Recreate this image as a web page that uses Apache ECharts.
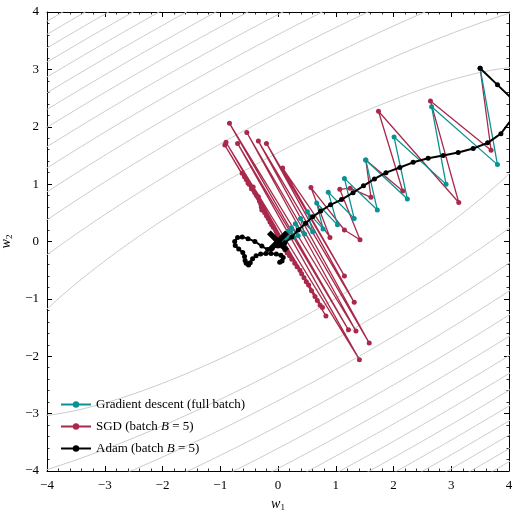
<!DOCTYPE html>
<html>
<head>
<meta charset="utf-8">
<script src="https://cdn.jsdelivr.net/npm/echarts@6/dist/echarts.min.js"></script>
<style>
html, body { margin: 0; padding: 0; background: #fff; }
#chart { width: 518px; height: 516px; }
</style>
</head>
<body>
<div id="chart"></div>
<script>
// quadratic loss  a*w1^2 + 2*b*w1*w2 + c*w2^2, minimum at origin
var lossCoef = [0.373, -0.526, 1.0];
var contourLevels = [2.4, 5.05, 7.7, 10.35, 13.0, 15.65, 18.3, 20.95, 23.6, 26.25, 28.9, 31.55, 34.2, 36.85, 39.5];
var minimum = [[0, 0]];

var gdPath = [
	[3.50, 3.02], [3.80, 1.34], [2.66, 2.35], [2.91, 1.00], [2.01, 1.82], [2.24, 0.74],
	[1.52, 1.42], [1.72, 0.55], [1.15, 1.10], [1.32, 0.40], [0.87, 0.86], [1.03, 0.29],
	[0.67, 0.67], [0.78, 0.22], [0.51, 0.52], [0.60, 0.17], [0.39, 0.40], [0.46, 0.13],
	[0.30, 0.31], [0.35, 0.10], [0.23, 0.24], [0.27, 0.08], [0.18, 0.18], [0.21, 0.06],
	[0.14, 0.14], [0.16, 0.05], [0.11, 0.11], [0.12, 0.04], [0.08, 0.08], [0.09, 0.03]
];

var sgdPath = [
	[3.50, 3.02], [3.69, 1.59], [2.64, 2.45], [3.13, 0.68], [1.74, 2.27], [2.16, 0.88],
	[1.52, 1.42], [1.61, 0.77], [1.25, 0.93], [1.07, 0.91], [1.42, 0.03], [1.15, 0.20],
	[0.57, 0.94], [0.90, 0.07],
	[0.08, 1.28], [1.15, -0.60], [-0.20, 1.71], [1.32, -1.06], [-0.34, 1.75], [1.58, -1.77],
	[-0.54, 1.90], [1.35, -1.56], [-0.84, 2.06], [1.22, -1.54], [-0.70, 1.71], [1.41, -2.06],
	[-0.90, 1.73], [0.77, -1.15], [-0.92, 1.68], [0.83, -1.30],
	[-0.62, 1.19], [0.73, -1.11], [-0.58, 1.13], [0.68, -1.03], [-0.55, 1.08], [0.64, -0.96],
	[-0.52, 1.02], [0.58, -0.86], [-0.50, 1.00], [0.53, -0.76], [-0.46, 0.92], [0.49, -0.70],
	[-0.43, 0.95], [0.45, -0.63], [-0.40, 0.85], [0.41, -0.56], [-0.37, 0.80], [0.38, -0.50],
	[-0.34, 0.78], [0.33, -0.44], [-0.32, 0.70], [0.29, -0.38], [-0.30, 0.66], [0.24, -0.31],
	[-0.29, 0.60], [0.20, -0.25], [-0.28, 0.55], [0.16, -0.20], [-0.23, 0.50], [0.12, -0.15],
	[-0.20, 0.45], [0.06, -0.08], [-0.17, 0.40], [0.04, -0.05], [-0.14, 0.34], [0.02, -0.02],
	[-0.11, 0.29], [-0.08, 0.25]
];

var adamPath = [
	[3.50, 3.02], [3.80, 2.73], [4.08, 2.46], [4.14, 2.26], [3.86, 1.88], [3.63, 1.72],
	[3.38, 1.62], [3.12, 1.55], [2.86, 1.50], [2.60, 1.45], [2.34, 1.38], [2.11, 1.29],
	[1.87, 1.20], [1.67, 1.09], [1.48, 0.97], [1.30, 0.85], [1.10, 0.73], [0.91, 0.64],
	[0.74, 0.53], [0.60, 0.43], [0.48, 0.32], [0.35, 0.20], [0.24, 0.08], [0.12, -0.02],
	[0.00, -0.08], [-0.10, -0.12], [-0.18, -0.14], [-0.28, -0.08], [-0.40, 0.00], [-0.52, 0.05],
	[-0.62, 0.08], [-0.70, 0.07], [-0.75, 0.00], [-0.74, -0.07], [-0.68, -0.13], [-0.61, -0.19],
	[-0.58, -0.26], [-0.57, -0.33], [-0.55, -0.38], [-0.51, -0.41], [-0.48, -0.37], [-0.44, -0.30],
	[-0.38, -0.25], [-0.30, -0.22], [-0.21, -0.21], [-0.12, -0.21], [-0.03, -0.22], [0.05, -0.24],
	[0.09, -0.28], [0.07, -0.34], [0.03, -0.36]
];

var tickValues = [-4, -3, -2, -1, 0, 1, 2, 3, 4];
var seriesNames = ['Gradient descent (full batch)', 'SGD (batch B = 5)', 'Adam (batch B = 5)'];
var seriesColors = ['#0a9292', '#a8294b', '#000000'];

var FONT = '"Liberation Serif", "DejaVu Serif", serif';

function ellipse(level) {
	var pts = [];
	var a = lossCoef[0], b = lossCoef[1], c = lossCoef[2];
	for (var i = 0; i <= 360; i++) {
		var t = i / 360 * 2 * Math.PI;
		var dx = Math.cos(t), dy = Math.sin(t);
		var q = a * dx * dx + 2 * b * dx * dy + c * dy * dy;
		var r = Math.sqrt(level / q);
		pts.push([r * dx, r * dy]);
	}
	return pts;
}

function axisCommon(pos, showLabel) {
	return {
		type: 'value',
		position: pos,
		min: tickValues[0],
		max: tickValues[tickValues.length - 1],
		interval: 1,
		axisLine: { show: true, onZero: false, lineStyle: { color: '#000', width: 1 } },
		axisTick: { show: true, inside: true, length: 5, lineStyle: { color: '#000', width: 1 } },
		minorTick: { show: true, splitNumber: 5, length: 2.5, lineStyle: { color: '#000', width: 0.8 } },
		splitLine: { show: false },
		axisLabel: {
			show: showLabel,
			fontFamily: FONT,
			fontSize: 13,
			color: '#000',
			formatter: function(v) { return String(v).replace('-', '\u2212'); }
		}
	};
}

var myChart = echarts.init(document.getElementById('chart'));

var series = [];
for (var k = 0; k < contourLevels.length; k++) {
	series.push({
		type: 'line',
		data: ellipse(contourLevels[k]),
		showSymbol: false,
		silent: true,
		clip: true,
		z: 1,
		lineStyle: { color: '#cbcbcb', width: 1 }
	});
}

var paths = [gdPath, sgdPath, adamPath];
var zOrder = [4, 3, 5];
for (var s = 0; s < paths.length; s++) {
	series.push({
		name: seriesNames[s],
		type: 'line',
		data: paths[s],
		symbol: 'circle',
		symbolSize: 5,
		showSymbol: true,
		clip: true,
		z: zOrder[s],
		color: seriesColors[s],
		itemStyle: { color: seriesColors[s] },
		lineStyle: { color: seriesColors[s], width: s == 2 ? 2 : 1.3 }
	});
}

// X marking the minimum
series.push({
	type: 'scatter',
	data: minimum,
	symbol: 'path://M0,1.7L1.7,0L5,3.3L8.3,0L10,1.7L6.7,5L10,8.3L8.3,10L5,6.7L1.7,10L0,8.3L3.3,5Z',
	symbolSize: 22,
	z: 10,
	silent: true,
	itemStyle: { color: '#000', opacity: 1 }
});

var xBottom = axisCommon('bottom', true);
xBottom.name = '{w|w}{s|1}';
xBottom.nameLocation = 'middle';
xBottom.nameGap = 23;
xBottom.nameTextStyle = {
	rich: {
		w: { fontFamily: FONT, fontStyle: 'italic', fontSize: 14, color: '#000' },
		s: { fontFamily: FONT, fontSize: 9, color: '#000', padding: [7, 0, 0, 0] }
	}
};
var yLeft = axisCommon('left', true);
yLeft.name = '{w|w}{s|2}';
yLeft.nameLocation = 'middle';
yLeft.nameGap = 31;
yLeft.nameTextStyle = xBottom.nameTextStyle;

option = {
	animation: false,
	backgroundColor: '#fff',
	grid: { left: 47, right: 9, top: 12, bottom: 45, containLabel: false, outerBoundsMode: 'none' },
	xAxis: [xBottom, axisCommon('top', false)],
	yAxis: [yLeft, axisCommon('right', false)],
	legend: {
		data: seriesNames,
		orient: 'vertical',
		left: 55,
		top: 393,
		itemWidth: 30,
		itemHeight: 8,
		itemGap: 9,
		textStyle: {
			fontFamily: FONT,
			fontSize: 13,
			color: '#000',
			rich: {
				i: { fontFamily: FONT, fontSize: 13, fontStyle: 'italic', color: '#000' }
			}
		},
		formatter: function(name) {
			return name.replace('B = 5', '{i|B} = 5');
		}
	},
	series: series
};

myChart.setOption(option);
</script>
</body>
</html>
